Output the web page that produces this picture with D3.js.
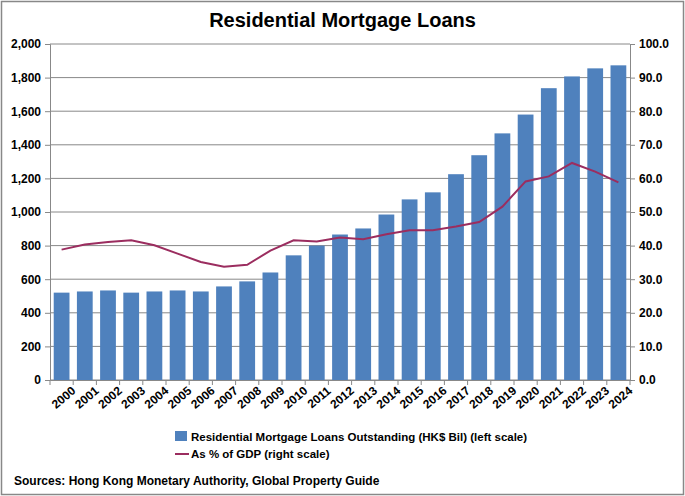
<!DOCTYPE html>
<html><head><meta charset="utf-8">
<script src="https://cdn.jsdelivr.net/npm/d3@7"></script>
<style>
body{margin:0;background:#fff;font-family:"Liberation Sans",Arial,sans-serif;}
text{font-weight:bold;fill:#000;}
</style></head><body>
<div id="chart"></div>
<script>
var years = ["2000","2001","2002","2003","2004","2005","2006","2007","2008","2009","2010","2011","2012","2013","2014","2015","2016","2017","2018","2019","2020","2021","2022","2023","2024"];
var loans = [520,527,533,520,527,533,527,557,587,640,742,800,866,902,985,1075,1117,1225,1338,1468,1580,1737,1807,1855,1873];
var pctGdp = [38.8,40.3,41.1,41.6,40.1,37.6,35.1,33.7,34.3,38.5,41.6,41.2,42.4,41.9,43.4,44.6,44.6,45.7,47.0,51.6,59.1,60.6,64.6,62.0,58.8];
var leftTicks = [0,200,400,600,800,1000,1200,1400,1600,1800,2000];
var rightTicks = [0,10,20,30,40,50,60,70,80,90,100];

var W = 685, H = 496;
var m = {left: 50, right: 55, top: 44, bottom: 116};
var w = W - m.left - m.right, h = H - m.top - m.bottom;

var svg = d3.select("#chart").append("svg").attr("width", W).attr("height", H);
svg.append("rect").attr("x", 1.5).attr("y", 1.5).attr("width", W - 3).attr("height", H - 3)
    .attr("fill", "#fff").attr("stroke", "#888").attr("stroke-width", 1.5);

svg.append("text").attr("x", W / 2).attr("y", 27).attr("text-anchor", "middle")
    .style("font-size", "20px").text("Residential Mortgage Loans");

var g = svg.append("g").attr("transform", "translate(" + m.left + "," + m.top + ")");

var x = d3.scaleBand().domain(years).range([0, w]).paddingInner(0.32).paddingOuter(0.16);
var yL = d3.scaleLinear().domain([0, 2000]).range([h, 0]);
var yR = d3.scaleLinear().domain([0, 100]).range([h, 0]);

// gridlines
g.selectAll(".grid").data(leftTicks).enter().append("line")
    .attr("x1", 0).attr("x2", w).attr("y1", yL).attr("y2", yL)
    .attr("stroke", "#888").attr("stroke-width", 1);

g.selectAll(".bar").data(loans).enter().append("rect")
    .attr("x", function(d, i) { return x(years[i]); })
    .attr("y", function(d) { return yL(d); })
    .attr("width", x.bandwidth())
    .attr("height", function(d) { return h - yL(d); })
    .attr("fill", "#4f81bd");

var line = d3.line()
    .x(function(d, i) { return x(years[i]) + x.bandwidth() / 2; })
    .y(function(d) { return yR(d); });
g.append("path").attr("d", line(pctGdp)).attr("fill", "none")
    .attr("stroke", "#9b2d5f").attr("stroke-width", 2);

var axL = g.append("g").call(d3.axisLeft(yL).tickValues(leftTicks).tickFormat(d3.format(",")).tickSize(5).tickPadding(4));
var axR = g.append("g").attr("transform", "translate(" + w + ",0)")
    .call(d3.axisRight(yR).tickValues(rightTicks).tickFormat(d3.format(".1f")).tickSize(5).tickPadding(4));
var xStep = w / years.length;
var axB = g.append("g").attr("transform", "translate(0," + h + ")")
    .call(d3.axisBottom(x).tickSize(0).tickPadding(8));
g.selectAll(".xt").data(d3.range(years.length + 1)).enter().append("line")
    .attr("x1", function(d) { return d * xStep; }).attr("x2", function(d) { return d * xStep; })
    .attr("y1", h).attr("y2", h + 5).attr("stroke", "#888");
[axL, axR, axB].forEach(function(a) {
    a.selectAll(".domain, .tick line").attr("stroke", "#888");
    a.selectAll("text").style("font-size", "12px").style("font-family", "'Liberation Sans',Arial,sans-serif").style("font-weight", "bold");
});
axB.selectAll("text").attr("text-anchor", "end").attr("dx", "0.3em").attr("dy", "0.9em")
    .attr("transform", "rotate(-40)");

// legend
var lg = svg.append("g").attr("transform", "translate(175,437)");
lg.append("rect").attr("x", 0).attr("y", -6).attr("width", 12).attr("height", 10).attr("fill", "#4f81bd");
lg.append("text").attr("x", 16).attr("y", 4).style("font-size", "11.5px")
    .text("Residential Mortgage Loans Outstanding (HK$ Bil) (left scale)");
lg.append("line").attr("x1", 0).attr("x2", 14).attr("y1", 17).attr("y2", 17)
    .attr("stroke", "#9b2d5f").attr("stroke-width", 2);
lg.append("text").attr("x", 16).attr("y", 21).style("font-size", "11.5px").text("As % of GDP (right scale)");

svg.append("text").attr("x", 14).attr("y", 485).style("font-size", "12px")
    .text("Sources: Hong Kong Monetary Authority, Global Property Guide");
</script>
</body></html>
